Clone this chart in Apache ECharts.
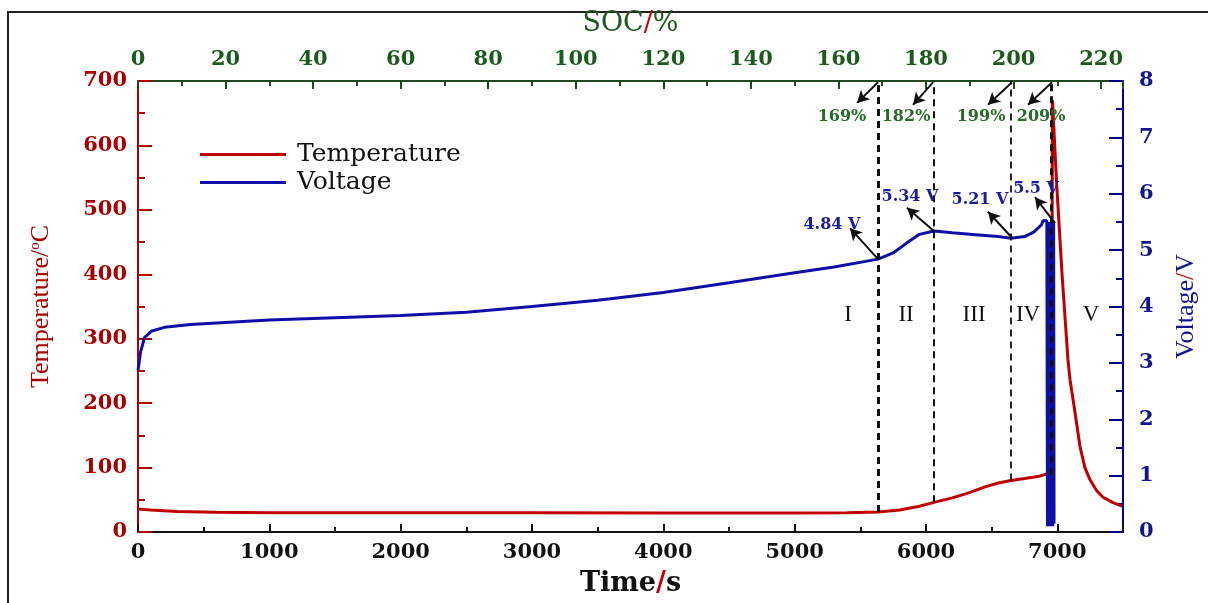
<!DOCTYPE html>
<html>
<head>
<meta charset="utf-8">
<script src="https://cdn.jsdelivr.net/npm/echarts@6/dist/echarts.min.js"></script>
<style>
  html, body { margin: 0; padding: 0; background: #fff; }
  #main { width: 1208px; height: 603px; }
</style>
</head>
<body>
<div id="main"></div>
<script>
// temperature (time s, degC)
var tempData = [
  [0, 35.5], [100, 34], [300, 32], [600, 30.5], [1000, 30], [2000, 30], [3000, 30],
  [4000, 29.5], [5000, 29.5], [5400, 30], [5635, 31], [5800, 34], [5950, 40],
  [6061, 46], [6200, 53], [6313, 60], [6450, 70], [6550, 76], [6647, 80], [6750, 83],
  [6850, 86], [6920, 90], [6955, 92], [6963, 670], [6995, 540], [7036, 400],
  [7081, 267], [7097, 236], [7135, 185], [7173, 132], [7210, 100], [7249, 81],
  [7300, 64], [7348, 54], [7420, 46], [7493, 40]
];
// voltage (time s, V)
var voltData = [
  [0, 2.87], [20, 3.2], [50, 3.45], [100, 3.56], [200, 3.63], [400, 3.68], [700, 3.72],
  [1000, 3.76], [1500, 3.8], [2000, 3.84], [2500, 3.9], [3000, 4.0], [3500, 4.11],
  [4000, 4.25], [4500, 4.42], [5000, 4.6], [5300, 4.7], [5635, 4.84], [5750, 4.95],
  [5850, 5.12], [5950, 5.28], [6061, 5.34], [6200, 5.31], [6400, 5.27], [6550, 5.24],
  [6647, 5.21], [6750, 5.24], [6820, 5.32], [6880, 5.45], [6890, 5.52], [6920, 5.52],
  [6925, 0.1], [6935, 5.5], [6945, 0.1], [6955, 5.5], [6965, 0.1], [6972, 5.52], [6975, 0.15]
];
// stage boundaries: SOC label, time, temperature where the dashed line stops
var socLabels = ['169%', '182%', '199%', '209%'];
var stageTimes = [5635, 6061, 6647, 6952];
var stageFloor = [31, 46, 80, 88];
var stageWidths = [3, 2, 1.8, 3];
// SOC label positions (time, temp) and arrows to the top axis
var socLabelPos = [[5360, 644], [5848, 644], [6419, 644], [6876, 644]];
var socArrowFrom = [[5635, 698], [6053, 698], [6655, 698], [6960, 698]];
var socArrowTo = [[5475, 666], [5901, 663], [6472, 663], [6777, 663]];
// voltage call-outs (time, V)
var voltLabels = ['4.84 V', '5.34 V', '5.21 V', '5.5 V'];
var voltLabelPos = [[5284, 5.45], [5878, 5.94], [6411, 5.89], [6838, 6.08]];
var voltArrowFrom = [[5635, 4.84], [6069, 5.32], [6655, 5.22], [6982, 5.48]];
var voltArrowTo = [[5421, 5.39], [5855, 5.75], [6472, 5.68], [6830, 5.94]];
// stage numerals (time, V)
var stageNames = ['I', 'II', 'III', 'IV', 'V'];
var stageNamePos = [[5406, 3.85], [5848, 3.85], [6366, 3.85], [6777, 3.85], [7257, 3.85]];

var RED = '#a50000', BLUE = '#14148c', GREEN = '#1d5a1d';
var serif = 'DejaVu Serif';

var chart = echarts.init(document.getElementById('main'));

var dashLines = stageTimes.map(function (t, i) {
  return [
    { coord: [t, stageFloor[i]], lineStyle: { width: stageWidths[i] } },
    { coord: [t, 700] }
  ];
});
var socArrows = socArrowFrom.map(function (p, i) {
  return [{ coord: p }, { coord: socArrowTo[i] }];
});
var socPoints = socLabelPos.map(function (p, i) {
  return { coord: p, value: socLabels[i] };
});
var voltArrows = voltArrowFrom.map(function (p, i) {
  return [{ coord: p }, { coord: voltArrowTo[i] }];
});
var voltPoints = voltLabelPos.map(function (p, i) {
  return { coord: p, value: voltLabels[i] };
});
var stagePoints = stageNamePos.map(function (p, i) {
  return { coord: p, value: stageNames[i] };
});

var plain = function (v) { return String(v); };

var option = {
  animation: false,
  backgroundColor: '#fff',
  graphic: [{
    type: 'rect', shape: { x: 8, y: 12, width: 1220, height: 620 },
    style: { fill: 'none', stroke: '#222', lineWidth: 2 }
  }],
  legend: {
    data: ['Temperature', 'Voltage'],
    left: 195, top: 137, orient: 'vertical',
    icon: 'rect', itemWidth: 86, itemHeight: 3, itemGap: 3,
    textStyle: { fontFamily: serif, fontSize: 25, color: '#111', padding: [0, 0, 0, 6] }
  },
  grid: { left: 138, right: 85, top: 81, bottom: 71 },
  xAxis: [{
    type: 'value', min: 0, max: 7500, interval: 1000, position: 'bottom',
    name: '{a|Time}{b|/}{a|s}', nameLocation: 'middle', nameGap: 38,
    nameTextStyle: {
      rich: {
        a: { fontFamily: serif, fontSize: 27, fontWeight: 'bold', color: '#111' },
        b: { fontFamily: serif, fontSize: 27, fontWeight: 'bold', color: '#c00000' }
      }
    },
    axisLine: { onZero: false, lineStyle: { color: '#111', width: 2 } },
    axisTick: { inside: true, length: 8, lineStyle: { width: 2 } },
    minorTick: { show: true, splitNumber: 2, length: 5, lineStyle: { color: '#111', width: 2 } },
    splitLine: { show: false },
    axisLabel: { fontFamily: serif, fontSize: 21, fontWeight: 'bold', color: '#111', margin: 10, showMaxLabel: false, formatter: plain }
  }, {
    type: 'value', min: 0, max: 225, interval: 20, position: 'top',
    name: '{a|SOC}{b|/}{a|%}', nameLocation: 'middle', nameGap: 44,
    nameTextStyle: {
      rich: {
        a: { fontFamily: serif, fontSize: 27, color: GREEN },
        b: { fontFamily: serif, fontSize: 27, color: '#c00000' }
      }
    },
    axisLine: { onZero: false, lineStyle: { color: '#1f4a1f', width: 2 } },
    axisTick: { inside: true, length: 8, lineStyle: { width: 2 } },
    minorTick: { show: true, splitNumber: 2, length: 5, lineStyle: { color: '#1f4a1f', width: 2 } },
    splitLine: { show: false },
    axisLabel: { fontFamily: serif, fontSize: 21, fontWeight: 'bold', color: GREEN, margin: 11, showMaxLabel: false, formatter: plain }
  }],
  yAxis: [{
    type: 'value', min: 0, max: 700, interval: 100, position: 'left',
    name: '{a|Temperature/}{s|o}{a|C}', nameLocation: 'middle', nameGap: 84,
    nameTextStyle: {
      rich: {
        a: { fontFamily: 'Liberation Serif', fontSize: 26, color: RED },
        s: { fontFamily: 'Liberation Serif', fontSize: 15, color: RED, verticalAlign: 'top', padding: [0, 0, 10, 0] }
      }
    },
    axisLine: { show: true, onZero: false, lineStyle: { color: '#b00000', width: 2 } },
    axisTick: { inside: true, length: 14, lineStyle: { width: 2 } },
    minorTick: { show: true, splitNumber: 2, length: 7, lineStyle: { color: '#b00000', width: 2 } },
    splitLine: { show: false },
    axisLabel: { fontFamily: serif, fontSize: 21, fontWeight: 'bold', color: RED, margin: 11 }
  }, {
    type: 'value', min: 0, max: 8, interval: 1, position: 'right',
    name: '{a|Voltage}{b|/}{a|V}', nameLocation: 'middle', nameGap: 50,
    nameTextStyle: {
      rich: {
        a: { fontFamily: 'Liberation Serif', fontSize: 26, color: BLUE },
        b: { fontFamily: 'Liberation Serif', fontSize: 26, color: '#c00000' }
      }
    },
    axisLine: { show: true, onZero: false, lineStyle: { color: '#00008b', width: 2 } },
    axisTick: { inside: true, length: 14, lineStyle: { width: 2 } },
    minorTick: { show: true, splitNumber: 2, length: 7, lineStyle: { color: '#00008b', width: 2 } },
    splitLine: { show: false },
    axisLabel: { fontFamily: serif, fontSize: 21, fontWeight: 'bold', color: BLUE, margin: 16 }
  }],
  series: [{
    name: 'Temperature', type: 'line', xAxisIndex: 0, yAxisIndex: 0,
    data: tempData, symbol: 'none', color: '#c00000',
    lineStyle: { width: 3, color: '#c00000' }
  }, {
    name: 'Voltage', type: 'line', xAxisIndex: 0, yAxisIndex: 1,
    data: voltData, symbol: 'none', color: '#0f0fa8',
    lineStyle: { width: 3, color: '#0f0fa8' },
    markLine: {
      silent: true, symbol: ['none', 'arrow'], symbolSize: [10, 12],
      label: { show: false },
      lineStyle: { color: '#111', width: 2, type: 'solid' },
      data: voltArrows
    },
    markPoint: {
      silent: true, symbol: 'rect', symbolSize: 1,
      itemStyle: { color: 'rgba(0,0,0,0)' },
      label: { show: true, position: 'inside', fontFamily: serif, fontSize: 16, fontWeight: 'bold', color: '#1c1ca0', formatter: '{c}' },
      data: voltPoints
    }
  }, {
    name: 'stages', type: 'line', xAxisIndex: 0, yAxisIndex: 0, data: [],
    markLine: {
      silent: true, symbol: ['none', 'none'],
      label: { show: false },
      lineStyle: { color: '#111', type: [7, 5] },
      data: dashLines
    }
  }, {
    name: 'soc', type: 'line', xAxisIndex: 0, yAxisIndex: 0, data: [],
    markLine: {
      silent: true, symbol: ['none', 'arrow'], symbolSize: [10, 12],
      label: { show: false },
      lineStyle: { color: '#111', width: 2, type: 'solid' },
      data: socArrows
    },
    markPoint: {
      silent: true, symbol: 'rect', symbolSize: 1,
      itemStyle: { color: 'rgba(0,0,0,0)' },
      label: { show: true, position: 'inside', fontFamily: serif, fontSize: 16, fontWeight: 'bold', color: '#2a6a2a', formatter: '{c}' },
      data: socPoints
    }
  }, {
    name: 'numerals', type: 'line', xAxisIndex: 0, yAxisIndex: 1, data: [],
    markPoint: {
      silent: true, symbol: 'rect', symbolSize: 1,
      itemStyle: { color: 'rgba(0,0,0,0)' },
      label: { show: true, position: 'inside', fontFamily: 'Liberation Serif', fontSize: 23, color: '#111', formatter: '{c}' },
      data: stagePoints
    }
  }]
};
chart.setOption(option);
</script>
</body>
</html>
